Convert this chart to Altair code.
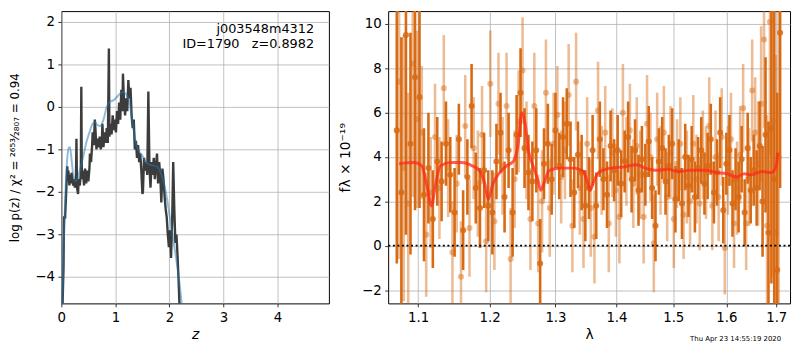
import altair as alt
import pandas as pd

# ---------------- left panel: p(z) ----------------
z_pz = [0.02, 0.04, 0.05, 0.07, 0.08, 0.10, 0.11, 0.12, 0.13, 0.15, 0.16, 0.18, 0.19, 0.21, 0.22,
        0.24, 0.25, 0.27, 0.28, 0.29, 0.31, 0.32, 0.34, 0.36, 0.37, 0.38, 0.40, 0.42, 0.44, 0.46,
        0.48, 0.50, 0.52, 0.53, 0.55, 0.57, 0.58, 0.60, 0.62, 0.63, 0.65, 0.67, 0.69, 0.71, 0.73,
        0.75, 0.76, 0.78, 0.80, 0.82, 0.84, 0.86, 0.88, 0.89, 0.91, 0.93, 0.95, 0.97, 0.99, 1.01,
        1.03, 1.05, 1.07, 1.09, 1.11, 1.13, 1.14, 1.16, 1.18, 1.20, 1.22, 1.24, 1.26, 1.28, 1.30,
        1.32, 1.34, 1.36, 1.38, 1.40, 1.42, 1.44, 1.46, 1.48, 1.50, 1.51, 1.53, 1.55, 1.57, 1.59,
        1.61, 1.63, 1.65, 1.67, 1.69, 1.71, 1.73, 1.75, 1.77, 1.79, 1.81, 1.83, 1.85, 1.87, 1.89,
        1.91, 1.93, 1.95, 1.97, 1.99, 2.01, 2.03, 2.05, 2.07, 2.09, 2.11, 2.13, 2.15, 2.17, 2.19]
logp_pz = [-4.8, -3.8, -2.6, -2.6, -2.3, -1.7, -1.4, -1.75, -1.5, -1.85, -1.6, -1.8, -1.55, -1.75, -1.85,
           -1.7, -1.9, -1.75, -0.75, -1.9, -2.05, -1.7, -1.85, -1.6, 0.47, -1.7, -1.5, -1.85, -1.45, -1.8,
           -1.5, -1.75, -1.45, -1.1, -1.3, -0.9, -0.6, -0.9, -0.3, -0.5, -1.0, -0.75, -0.95, -0.7, -1.0,
           -0.8, -0.4, -0.95, -0.6, -0.85, -0.5, -0.85, 1.37, -0.7, -0.4, -0.65, -0.2, -0.55, -0.3, -0.6,
           -0.1, -0.4, 0.1, -0.3, 0.4, -0.1, 0.78, 0.1, -0.2, 0.2, -0.1, 0.63, 0.2, 0.45, -0.2,
           -0.5, -0.3, -1.0, -0.8, -1.2, -0.9, -1.3, -1.1, -1.5, -2.05, -2.0, -1.2, -1.5, -1.3, -1.6,
           0.36, -1.4, -1.9, -1.3, -1.6, -1.2, -1.7, -1.4, -1.1, -1.8, -1.3, -1.6, -2.25, -1.45, -1.7,
           -2.1, -2.4, -2.6, -3.0, -3.3, -2.9, -3.55, -2.7, -1.3, -2.4, -3.2, -3.0, -3.5, -4.1, -4.8]

z_tm = [0.02, 0.05, 0.08, 0.11, 0.14, 0.16, 0.19, 0.22, 0.26, 0.30, 0.34, 0.40, 0.46, 0.52, 0.58,
        0.62, 0.66, 0.72, 0.78, 0.84, 0.90, 0.96, 1.02, 1.08, 1.14, 1.20, 1.26, 1.30, 1.34, 1.38,
        1.44, 1.50, 1.56, 1.62, 1.70, 1.78, 1.84, 1.90, 1.96, 2.02, 2.08, 2.14, 2.20, 2.24]
logp_tm = [-4.7, -3.0, -1.9, -1.2, -0.95, -0.95, -1.25, -1.6, -1.75, -1.7, -1.5, -1.2, -0.85, -0.6, -0.4,
           -0.35, -0.42, -0.45, -0.3, 0.0, 0.12, 0.15, 0.22, 0.3, 0.35, 0.3, 0.1, -0.2, -0.55, -0.85,
           -1.05, -1.15, -1.3, -1.35, -1.38, -1.42, -1.55, -1.8, -2.2, -2.7, -3.2, -3.7, -4.3, -4.8]

pz_ticks_x = [0, 1, 2, 3, 4]
pz_ticks_y = [-4, -3, -2, -1, 0, 1, 2]
label_lines = ["j003548m4312", "ID=1790\u00a0\u00a0\u00a0z=0.8982"]

# ---------------- right panel: spectrum ----------------
lam_d = [1.072, 1.078, 1.084, 1.090, 1.096, 1.102, 1.108, 1.114, 1.120, 1.126, 1.132, 1.138, 1.144,
         1.150, 1.156, 1.162, 1.168, 1.174, 1.180, 1.186, 1.192, 1.198, 1.204, 1.210, 1.216, 1.222,
         1.228, 1.234, 1.240, 1.246, 1.252, 1.258, 1.264, 1.270, 1.276, 1.282, 1.288, 1.294, 1.300,
         1.306, 1.312, 1.318, 1.324, 1.330, 1.336, 1.342, 1.348, 1.354, 1.360, 1.366, 1.372, 1.378,
         1.384, 1.390, 1.396, 1.402, 1.408, 1.414, 1.420, 1.426, 1.432, 1.438, 1.444, 1.450, 1.456,
         1.462, 1.468, 1.474, 1.480, 1.486, 1.492, 1.498, 1.504, 1.510, 1.516, 1.522, 1.528, 1.534,
         1.540, 1.546, 1.552, 1.558, 1.564, 1.570, 1.576, 1.582, 1.588, 1.594, 1.600, 1.606, 1.612,
         1.618, 1.624, 1.630, 1.636, 1.642, 1.648, 1.654, 1.660, 1.666, 1.672, 1.678, 1.684, 1.690,
         1.696, 1.702, 1.708]
flux_d = [5.2, 2.4, 9.5, 4.6, 7.6, 6.7, 2.3, 3.5, 1.2, 3.8, 2.9, 4.6, 3.2,
          1.5, 4.8, 0.7, 3.1, 6.3, 2.6, 1.7, 3.4, 1.8, 1.5, 3.8, 5.1, 2.2,
          4.3, 1.5, 5.0, 6.9, 4.4, 3.3, 2.9, 4.3, -0.8, 3.7, 4.6, 3.0, 5.2,
          3.6, 4.9, 5.5, 3.9, 2.4, 4.1, 3.3, 1.8, 2.6, 4.3, 1.8, 4.8, 3.0,
          2.3, 4.5, 3.4, 4.3, 2.8, 3.8, 4.9, 3.0, 4.3, 2.5, 3.9, 3.2, 4.7,
          2.6, 0.9, 3.8, 4.4, 2.9, 3.6, 4.6, 2.1, 3.4, 1.9, 4.0, 2.7, 3.9,
          2.2, 3.5, 4.3, 2.8, 3.6, 4.8, 2.4, 3.3, 5.1, 1.6, 3.7, 4.3, 1.9,
          3.0, 2.2, 3.9, 1.5, 4.4, 2.5, 3.4, 2.6, 4.5, 2.0, 5.0, 0.6, 5.3,
          3.0, -1.1, 9.6]
err_d = [6.0, 7.0, 9.0, 5.0, 6.0, 5.0, 3.0, 2.5, 2.2, 2.0, 1.8, 1.9, 1.7,
         2.0, 1.6, 1.8, 1.7, 1.9, 1.6, 1.8, 1.7, 1.6, 1.9, 1.7, 1.8, 1.6,
         1.7, 2.0, 1.8, 2.0, 1.8, 1.7, 1.8, 1.9, 2.0, 1.6, 1.8, 1.6, 1.7,
         1.5, 1.8, 1.6, 1.7, 1.6, 1.5, 1.7, 1.6, 1.4, 1.6, 1.5, 1.7, 1.4,
         1.5, 1.6, 1.4, 1.6, 1.5, 1.4, 1.6, 1.5, 1.4, 1.6, 1.5, 1.4, 1.6,
         1.4, 1.6, 1.5, 1.4, 1.5, 1.4, 1.6, 1.5, 1.4, 1.6, 1.5, 1.4, 1.5,
         1.6, 1.4, 1.5, 1.4, 1.5, 1.6, 1.4, 1.5, 1.6, 1.5, 1.4, 1.6, 1.5,
         1.4, 1.6, 1.5, 1.5, 1.6, 1.5, 1.6, 1.7, 2.0, 2.5, 3.5, 5.0, 7.0,
         9.0, 8.0, 7.0]

lam_l = [1.075, 1.081, 1.087, 1.093, 1.099, 1.105, 1.111, 1.117, 1.123, 1.129, 1.135, 1.141, 1.147,
         1.153, 1.159, 1.165, 1.171, 1.177, 1.183, 1.189, 1.195, 1.201, 1.207, 1.213, 1.219, 1.225,
         1.231, 1.237, 1.243, 1.249, 1.255, 1.261, 1.267, 1.273, 1.279, 1.285, 1.291, 1.297, 1.303,
         1.309, 1.315, 1.321, 1.327, 1.333, 1.339, 1.345, 1.351, 1.357, 1.363, 1.369, 1.375, 1.381,
         1.387, 1.393, 1.399, 1.405, 1.411, 1.417, 1.423, 1.429, 1.435, 1.441, 1.447, 1.453, 1.459,
         1.465, 1.471, 1.477, 1.483, 1.489, 1.495, 1.501, 1.507, 1.513, 1.519, 1.525, 1.531, 1.537,
         1.543, 1.549, 1.555, 1.561, 1.567, 1.573, 1.579, 1.585, 1.591, 1.597, 1.603, 1.609, 1.615,
         1.621, 1.627, 1.633, 1.639, 1.645, 1.651, 1.657, 1.663, 1.669, 1.675, 1.681, 1.687, 1.693,
         1.699, 1.705]
flux_l = [7.4, 3.5, 1.9, 8.2, 5.7, 5.1, 0.5, 2.4, 4.9, 2.6, 7.1, 3.5, -0.3,
          2.8, -1.4, 5.4, 0.8, 4.4, 2.8, 5.0, 0.2, 7.3, 1.1, 6.4, 3.6, 6.3,
          -0.6, 3.0, 5.6, 7.9, 4.3, 1.2, 6.3, 1.0, 2.0, 6.9, 1.7, 4.6, 5.9,
          3.1, 4.3, 6.8, 0.9, 7.4, 2.6, 1.2, 4.6, 1.7, 0.4, 6.1, 3.4, 5.1,
          1.0, 4.2, 2.5, 1.3, 6.0, 3.8, 5.2, 2.8, 4.5, 3.2, 1.3, 5.5, 4.0,
          0.1, 4.8, 3.4, 5.1, 2.2, 4.2, 1.2, 3.7, 4.6, 1.4, 3.1, 2.0, 4.6,
          3.0, 1.9, 4.1, 3.3, 5.4, 1.8, 4.0, 2.2, 4.9, -0.1, 3.4, 4.8, 1.0,
          2.6, 4.1, 6.2, 1.0, 3.1, 7.0, 5.1, 3.7, 6.4, 9.3, 0.9, 10.1, 5.6,
          0.6, 4.0]
err_l = [8.0, 6.0, 5.0, 6.0, 4.0, 3.0, 2.8, 2.5, 2.4, 2.3, 2.4, 2.2, 2.3,
         2.2, 2.5, 2.3, 2.2, 2.3, 2.4, 2.2, 2.3, 2.4, 2.2, 2.3, 2.2, 2.4,
         2.3, 2.2, 2.3, 2.4, 2.2, 2.3, 2.4, 2.2, 2.3, 2.4, 2.2, 2.3, 2.2,
         2.1, 2.2, 2.3, 2.1, 2.2, 2.1, 2.2, 2.1, 2.2, 2.1, 2.2, 2.0, 2.1,
         2.2, 2.0, 2.1, 2.1, 2.2, 2.0, 2.1, 2.0, 2.2, 2.0, 2.1, 2.2, 2.0,
         2.2, 2.1, 2.0, 2.1, 2.0, 2.1, 2.2, 2.0, 2.1, 2.0, 2.1, 2.0, 2.2,
         2.0, 2.1, 2.0, 2.1, 2.2, 2.0, 2.1, 2.0, 2.2, 2.1, 2.0, 2.1, 2.0,
         2.1, 2.2, 2.0, 2.1, 2.2, 2.3, 2.5, 2.8, 3.5, 4.0, 5.0, 6.0, 7.0,
         8.0, 9.0]

lam_m = [1.075, 1.095, 1.105, 1.112, 1.118, 1.124, 1.130, 1.145, 1.160, 1.175, 1.185, 1.193, 1.198,
         1.205, 1.215, 1.225, 1.235, 1.242, 1.248, 1.253, 1.258, 1.265, 1.272, 1.277, 1.283, 1.290,
         1.310, 1.330, 1.345, 1.352, 1.356, 1.362, 1.370, 1.390, 1.410, 1.435, 1.450, 1.470, 1.490,
         1.510, 1.530, 1.560, 1.580, 1.600, 1.620, 1.635, 1.650, 1.670, 1.690, 1.700, 1.703]
flux_m = [3.7, 3.75, 3.6, 2.7, 1.8, 2.8, 3.6, 3.75, 3.75, 3.6, 3.4, 2.8, 2.1,
          2.8, 3.3, 3.6, 3.8, 4.5, 6.0, 5.5, 4.3, 3.6, 3.0, 2.5, 2.9, 3.4,
          3.5, 3.5, 3.35, 2.8, 2.5, 2.9, 3.3, 3.5, 3.55, 3.65, 3.5, 3.4, 3.45,
          3.35, 3.4, 3.4, 3.3, 3.25, 3.1, 3.25, 3.2, 3.35, 3.3, 3.6, 4.2]

sp_ticks_x = [1.1, 1.2, 1.3, 1.4, 1.5, 1.6, 1.7]
sp_ticks_y = [-2, 0, 2, 4, 6, 8, 10]
timestamp = "Thu Apr 23 14:55:19 2020"

# ---------------- styling helpers ----------------
FONT = "DejaVu Sans"
GRID = "#b0b0b0"
ORANGE = "#d86a14"


def ax(**kw):
    base = dict(grid=True, gridColor=GRID, gridWidth=0.8, domain=False, ticks=True,
                tickColor="black", tickSize=3.5, tickWidth=0.8, labelColor="black",
                labelFont=FONT, labelFontSize=13.5, labelPadding=3.5, titleFont=FONT,
                titleFontSize=14, titleFontWeight="normal", titleColor="black",
                labelFlush=False, labelOverlap=False)
    base.update(kw)
    return alt.Axis(**base)


# ---------------- left chart ----------------
pz_df = pd.DataFrame({"z": z_pz, "logp": logp_pz})
tm_df = pd.DataFrame({"z": z_tm, "logp": logp_tm})
xs = alt.Scale(domain=[0, 4.95], nice=False, zero=False)
ys = alt.Scale(domain=[-4.62, 2.25], nice=False, zero=False)

pz_line = alt.Chart(pz_df).mark_line(color="#3c3c3c", strokeWidth=2.4, clip=True).encode(
    x=alt.X("z:Q", scale=xs, axis=ax(values=pz_ticks_x, title="z", titleFontStyle="italic")),
    y=alt.Y("logp:Q", scale=ys,
            axis=ax(values=pz_ticks_y, title="log p(z) / χ² = ²⁶⁵³⁄₂₈₀₇ = 0.94",
                    titleFontSize=12, titlePadding=13)),
    order="z:Q",
)
tm_line = alt.Chart(tm_df).mark_line(color="#1f77b4", opacity=0.5, strokeWidth=2,
                                     clip=True, interpolate="monotone").encode(
    x="z:Q", y="logp:Q", order="z:Q")

txt1 = alt.Chart(pd.DataFrame({"t": [label_lines[0]]})).mark_text(
    align="right", baseline="alphabetic", font=FONT, fontSize=13, color="black").encode(
    x=alt.value(256), y=alt.value(22), text="t:N")
txt2 = alt.Chart(pd.DataFrame({"t": [label_lines[1]]})).mark_text(
    align="right", baseline="alphabetic", font=FONT, fontSize=13, color="black").encode(
    x=alt.value(256), y=alt.value(37), text="t:N")

left = alt.layer(pz_line, tm_line, txt1, txt2).properties(width=271, height=296)

# ---------------- right chart ----------------
d_df = pd.DataFrame({"lam": lam_d, "f": flux_d, "e": err_d})
d_df["lo"] = d_df["f"] - d_df["e"]
d_df["hi"] = d_df["f"] + d_df["e"]
l_df = pd.DataFrame({"lam": lam_l, "f": flux_l, "e": err_l})
l_df["lo"] = l_df["f"] - l_df["e"]
l_df["hi"] = l_df["f"] + l_df["e"]
m_df = pd.DataFrame({"lam": lam_m, "f": flux_m})

xs2 = alt.Scale(type="log", domain=[1.0608, 1.7287], nice=False)
ys2 = alt.Scale(domain=[-2.6, 10.58], nice=False, zero=False)

X2 = alt.X("lam:Q", scale=xs2, axis=ax(values=sp_ticks_x, format=".1f", title="λ"))

l_err = alt.Chart(l_df).mark_rule(color=ORANGE, opacity=0.45, strokeWidth=2.6, clip=True).encode(
    x=X2, y=alt.Y("lo:Q", scale=ys2, axis=ax(values=sp_ticks_y, title="fλ × 10⁻¹⁹", titlePadding=9)),
    y2="hi:Q")
l_pt = alt.Chart(l_df).mark_circle(color=ORANGE, opacity=0.45, size=38, clip=True).encode(
    x="lam:Q", y="f:Q")
d_err = alt.Chart(d_df).mark_rule(color=ORANGE, opacity=1, strokeWidth=2.6, clip=True).encode(
    x="lam:Q", y="lo:Q", y2="hi:Q")
d_pt = alt.Chart(d_df).mark_circle(color=ORANGE, opacity=0.85, size=38, clip=True).encode(
    x="lam:Q", y="f:Q")
zero = alt.Chart(pd.DataFrame({"f": [0]})).mark_rule(
    color="black", strokeWidth=1.8, strokeDash=[2, 2.6]).encode(y="f:Q")
model = alt.Chart(m_df).mark_line(color="#ff2a1a", opacity=0.75, strokeWidth=3,
                                  clip=True, interpolate="monotone").encode(x="lam:Q", y="f:Q")
stamp = alt.Chart(pd.DataFrame({"t": [timestamp]})).mark_text(
    align="right", baseline="alphabetic", font=FONT, fontSize=7, color="black").encode(
    x=alt.value(398), y=alt.value(334), text="t:N")

right = alt.layer(l_err, l_pt, d_err, d_pt, zero, model, stamp).properties(width=407, height=296)

chart = alt.hconcat(left, right, spacing=8, padding=0, background="white").configure_view(
    stroke="black", strokeWidth=1)

chart.save("out.html", embed_options={"renderer": "svg", "actions": False})
